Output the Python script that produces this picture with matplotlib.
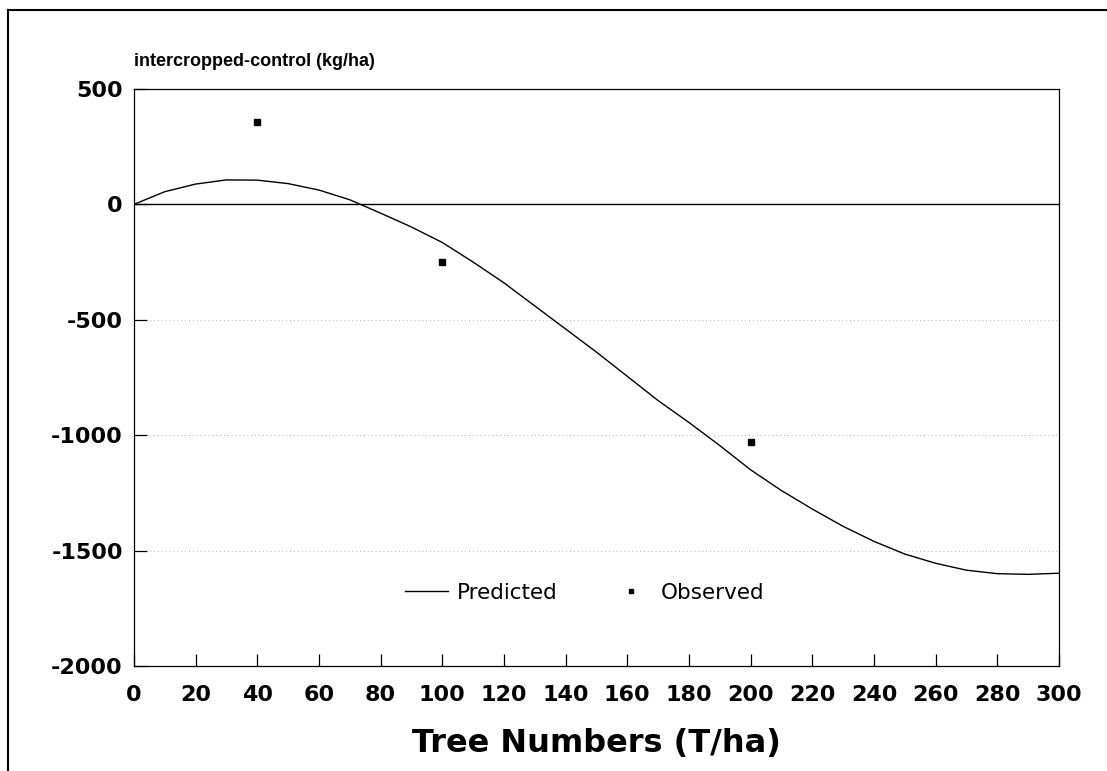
import numpy as np
import matplotlib
matplotlib.use('Agg')
import matplotlib.pyplot as plt
from matplotlib.lines import Line2D

plt.rcParams['font.family'] = ['DejaVu Sans']
plt.rcParams['axes.unicode_minus'] = False

# predicted response curve (kg/ha) against tree density
pred_trees = [0, 10, 20, 30, 40, 50, 60, 70, 80, 90, 100, 110, 120, 130, 140,
              150, 160, 170, 180, 190, 200, 210, 220, 230, 240, 250, 260,
              270, 280, 290, 300]
pred_yield = [0, 55, 88, 106, 105, 90, 62, 20, -38, -98, -165, -250, -340,
              -440, -540, -640, -745, -850, -945, -1045, -1150, -1240, -1320,
              -1395, -1460, -1515, -1555, -1585, -1600, -1603, -1598]

# observed differences
obs_trees = [40, 100, 200]
obs_yield = [355, -250, -1030]

x_ticks = list(range(0, 301, 20))
y_ticks = [500, 0, -500, -1000, -1500, -2000]
grid_levels = [-500, -1000, -1500]

fig = plt.figure(figsize=(11.07, 7.71), dpi=100)
ax = fig.add_axes([0.1210, 0.1362, 0.8356, 0.7484])

for lv in grid_levels:
    ax.axhline(lv, color='#b4b4b4', lw=0.7, ls=(0, (1, 3)), zorder=1)
ax.axhline(0, color='black', lw=1.0, zorder=2)

ax.plot(pred_trees, pred_yield, color='black', lw=1.0, zorder=3)
ax.plot(obs_trees, obs_yield, ls='none', marker='s', ms=4, color='black',
        zorder=4)

ax.set_xlim(0, 300)
ax.set_ylim(-2000, 500)
ax.set_xticks(x_ticks)
ax.set_yticks(y_ticks)
ax.tick_params(direction='in', length=9, width=0.9, labelsize=16)
ax.tick_params(axis='x', pad=14)
ax.tick_params(axis='y', pad=8)
for lbl in ax.get_xticklabels() + ax.get_yticklabels():
    lbl.set_fontweight('bold')
for sp in ax.spines.values():
    sp.set_linewidth(0.9)

ax.set_xlabel('Tree Numbers (T/ha)', fontsize=23, fontweight='bold',
              labelpad=16)
fig.text(134 / 1107, 1 - 66 / 771, 'intercropped-control (kg/ha)',
         family='Liberation Sans', fontsize=13, fontweight='bold',
         va='baseline', ha='left')

handles = [Line2D([], [], color='black', lw=1.0),
           Line2D([], [], ls='none', marker='s', ms=3.5, color='black')]
ax.legend(handles, ['Predicted', 'Observed'], ncol=2, frameon=False,
          loc='center', bbox_to_anchor=(0.4876, 0.1265), fontsize=15.5,
          handlelength=2.0, handletextpad=0.4, columnspacing=2.4)

# outer frame around the figure
fig.add_artist(Line2D([8 / 1107, 1.0], [1 - 10 / 771, 1 - 10 / 771],
                      transform=fig.transFigure, color='black', lw=1.5))
fig.add_artist(Line2D([8 / 1107, 8 / 1107], [0.0, 1 - 10 / 771],
                      transform=fig.transFigure, color='black', lw=1.5))

fig.savefig('out.png', dpi=100)
